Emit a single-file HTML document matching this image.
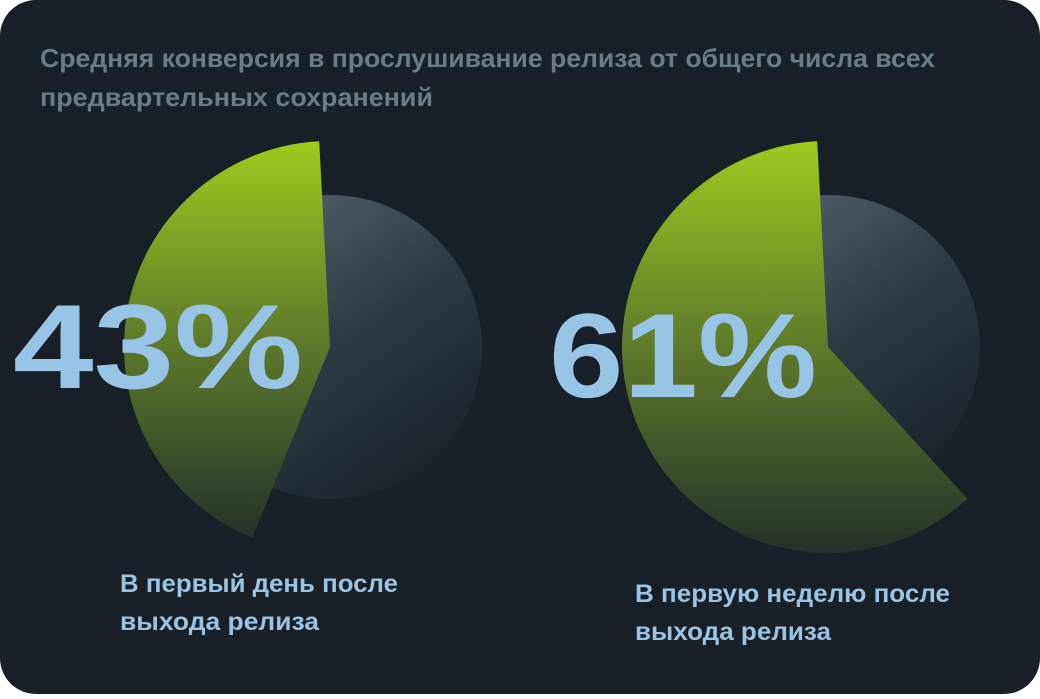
<!DOCTYPE html>
<html><head><meta charset="utf-8"><style>
html,body{margin:0;padding:0;background:#fff;}
body{width:1040px;height:694px;overflow:hidden;font-family:"Liberation Sans","Noto Sans CJK SC",sans-serif;}
</style></head><body>
<svg id="chart" width="1040" height="694" viewBox="0 0 1040 694" xmlns="http://www.w3.org/2000/svg">
<defs>
<linearGradient id="gGreen" x1="0" y1="0" x2="0" y2="1"><stop offset="0" stop-color="#9ecb1f"/><stop offset="0.45" stop-color="#64822a"/><stop offset="1" stop-color="#25302a"/></linearGradient>
<linearGradient id="gGray" x1="0.15" y1="0" x2="0.85" y2="1"><stop offset="0" stop-color="#56676f"/><stop offset="0.5" stop-color="#2e3a43"/><stop offset="1" stop-color="#171e25"/></linearGradient>
</defs>
<rect x="0" y="0" width="1040" height="694" rx="36" fill="#181f26"/>
<text x="40" y="67" font-size="26" font-weight="bold" fill="#6a7c86" textLength="895" lengthAdjust="spacingAndGlyphs">Средняя конверсия в прослушивание релиза от общего числа всех</text>
<text x="40" y="106" font-size="26" font-weight="bold" fill="#6a7c86" textLength="393" lengthAdjust="spacingAndGlyphs">предвартельных сохранений</text>
<g id="pies"></g>
</svg>
<script>
const categories = ["В первый день после выхода релиза", "В первую неделю после выхода релиза"];
const values = [43, 61];
const labelLines = [["В первый день после","выхода релиза"],["В первую неделю после","выхода релиза"]];
const NS = "http://www.w3.org/2000/svg";
const g = document.getElementById('pies');
const centers = [[330,347],[828,347]];
const rBase = 152, rSlice = 206, startDeg = -3;
const pctLayout = [{x:13,y:388,w:290},{x:549,y:397,w:268}];
const labelLayout = [{x:120,y:592,w:[278,199]},{x:635,y:602,w:[315,196]}];
function pt(cx,cy,r,deg){const a=deg*Math.PI/180;return [cx+r*Math.sin(a), cy-r*Math.cos(a)];}
values.forEach((v,i)=>{
  const [cx,cy]=centers[i];
  const c=document.createElementNS(NS,'circle');
  
  
  c.setAttribute('cx',cx);c.setAttribute('cy',cy);c.setAttribute('r',rBase);c.setAttribute('fill','url(#gGray)');
  g.appendChild(c);
  const sweep=v/100*360;
  const p1=pt(cx,cy,rSlice,startDeg), p2=pt(cx,cy,rSlice,startDeg-sweep);
  const large=sweep>180?1:0;
  const p=document.createElementNS(NS,'path');
  
  
  p.setAttribute('d',`M${cx},${cy} L${p1[0]},${p1[1]} A${rSlice},${rSlice} 0 ${large} 0 ${p2[0]},${p2[1]} Z`);
  p.setAttribute('fill','url(#gGreen)');
  g.appendChild(p);
  const t=document.createElementNS(NS,'text');
  
  
  t.setAttribute('x',pctLayout[i].x);t.setAttribute('y',pctLayout[i].y);
  t.setAttribute('font-size','120');t.setAttribute('font-weight','bold');t.setAttribute('fill','#98c4e6');
  t.setAttribute('textLength',pctLayout[i].w);t.setAttribute('lengthAdjust','spacingAndGlyphs');
  t.textContent=v+'%';
  g.appendChild(t);
  labelLines[i].forEach((ln,j)=>{
    const l=document.createElementNS(NS,'text');
    
    
    l.setAttribute('x',labelLayout[i].x);l.setAttribute('y',labelLayout[i].y+j*38);
    l.setAttribute('font-size','25');l.setAttribute('font-weight','bold');l.setAttribute('fill','#9ac4e6');
    l.setAttribute('textLength',labelLayout[i].w[j]);l.setAttribute('lengthAdjust','spacingAndGlyphs');
    l.textContent=ln;
    g.appendChild(l);
  });
});
</script>
</body></html>
